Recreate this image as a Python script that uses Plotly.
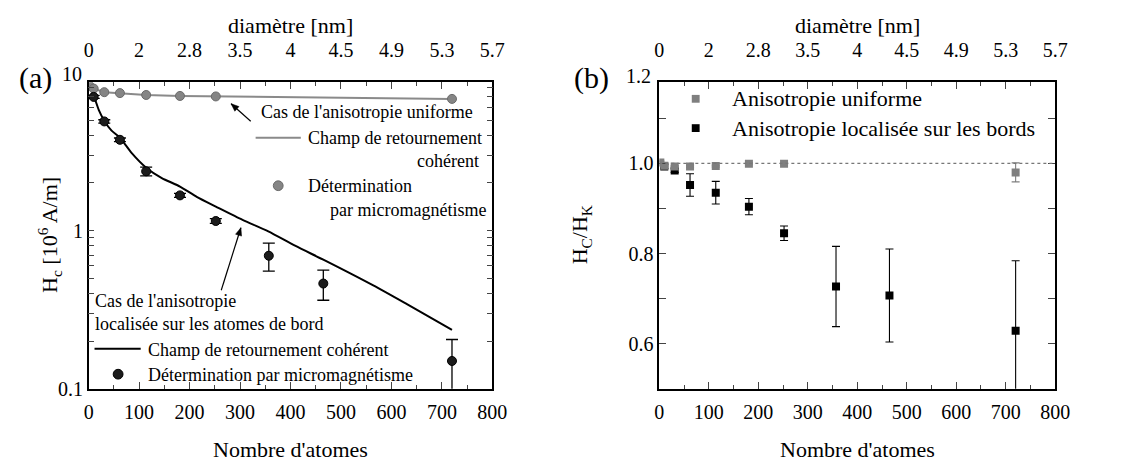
import math
import plotly.graph_objects as go

W, H = 1130, 468
FONT = "Liberation Serif, Times New Roman, DejaVu Serif, serif"

def px(x):
    return x / W

def py(y):
    return 1 - y / H

# ---------------- data ----------------
n_uniform = [2, 10, 31, 62, 114, 181, 252, 720]
hc_uniform = [8.2, 7.9, 7.5, 7.4, 7.2, 7.1, 7.05, 6.8]

n_edge = [10, 31, 62, 114, 181, 252, 357, 465, 720]
hc_edge = [7.0, 4.9, 3.75, 2.37, 1.67, 1.15, 0.694, 0.463, 0.150]
hc_edge_err = [0.15, 0.12, 0.1, 0.15, 0.05, 0.04, 0.14, 0.1, 0.055]

n_curve = [5, 10, 20, 31, 45, 61, 85, 114, 145, 181, 215, 252, 305, 356, 410, 465, 564, 629, 720]
hc_curve = [7.4, 7.1, 5.8, 4.95, 4.3, 3.9, 3.1, 2.5, 2.15, 1.9, 1.63, 1.42, 1.17, 0.99, 0.8, 0.655, 0.45, 0.345, 0.236]

ratio_uniform = [1.002, 0.995, 0.993, 0.993, 0.994, 0.999, 0.999, 0.980]
ratio_uniform_err = [0.003, 0.002, 0.002, 0.002, 0.002, 0.002, 0.002, 0.021]
ratio_edge = [0.993, 0.984, 0.952, 0.935, 0.904, 0.845, 0.727, 0.707, 0.629]
ratio_edge_err = [0.004, 0.004, 0.025, 0.025, 0.018, 0.016, 0.089, 0.103, 0.155]

atom_ticks = [0, 100, 200, 300, 400, 500, 600, 700, 800]
diam_labels = ["0", "2", "2.8", "3.5", "4", "4.5", "4.9", "5.3", "5.7"]

log_major = [0.1, 1]
log_major_text = ["0.1", "1"]
log_minor = [0.2, 0.3, 0.4, 0.5, 0.6, 0.7, 0.8, 0.9, 2, 3, 4, 5, 6, 7, 8]

GRAY = "#858585"
GRAY_LINE = "#8a8a8a"

fig = go.Figure()

# ---- panel (a) ----
fig.add_trace(go.Scatter(x=n_curve, y=hc_curve, mode="lines", line_shape="spline",
                         line=dict(color="black", width=2, smoothing=0.6), xaxis="x", yaxis="y",
                         showlegend=False))
fig.add_trace(go.Scatter(x=n_uniform, y=hc_uniform, mode="lines+markers",
                         line=dict(color=GRAY_LINE, width=2),
                         marker=dict(size=9, color=GRAY, line=dict(color="#6a6a6a", width=1)),
                         xaxis="x", yaxis="y", showlegend=False))
fig.add_trace(go.Scatter(x=n_edge, y=hc_edge, mode="markers",
                         marker=dict(size=9, color="#1c1c1c", line=dict(color="black", width=1)),
                         error_y=dict(type="data", array=hc_edge_err, color="black", thickness=1.3, width=6),
                         xaxis="x", yaxis="y", showlegend=False))
fig.add_trace(go.Scatter(x=[0, 800], y=[None, None], mode="markers", xaxis="x3", yaxis="y",
                         showlegend=False, hoverinfo="skip"))

# ---- panel (b) ----
fig.add_trace(go.Scatter(x=n_edge, y=ratio_edge, mode="markers",
                         marker=dict(symbol="square", size=8, color="black"),
                         error_y=dict(type="data", array=ratio_edge_err, color="black", thickness=1.1, width=4),
                         xaxis="x2", yaxis="y2", showlegend=False))
fig.add_trace(go.Scatter(x=n_uniform, y=ratio_uniform, mode="markers",
                         marker=dict(symbol="square", size=8, color="#7f7f7f"),
                         error_y=dict(type="data", array=ratio_uniform_err, color="#7f7f7f", thickness=1.1, width=4),
                         xaxis="x2", yaxis="y2", showlegend=False))
fig.add_trace(go.Scatter(x=[0, 800], y=[None, None], mode="markers", xaxis="x4", yaxis="y2",
                         showlegend=False, hoverinfo="skip"))

tickfont = dict(family=FONT, size=20, color="black")
ydom = [py(390), py(76)]
xdom1 = [px(77), px(488)]
xdom2 = [px(658), px(1061)]

common_x = dict(range=[0, 800], tickvals=atom_ticks, ticks="inside", ticklen=7, tickwidth=1.3,
                showline=True, linecolor="black", linewidth=1.5, showgrid=False, zeroline=False,
                tickfont=tickfont, mirror=False,
                minor=dict(ticks="inside", ticklen=4, tickwidth=1.2, dtick=50, tick0=0, showgrid=False))
top_x = dict(range=[0, 800], tickvals=atom_ticks, ticktext=diam_labels, side="top",
             ticks="inside", ticklen=7, tickwidth=1.3, showline=True, linecolor="black", linewidth=1.5,
             showgrid=False, zeroline=False, tickfont=tickfont, ticklabelstandoff=15,
             minor=dict(ticks="inside", ticklen=4, tickwidth=1.2, dtick=50, tick0=0, showgrid=False))

fig.update_layout(
    width=W, height=H,
    margin=dict(l=0, r=0, t=0, b=0),
    plot_bgcolor="white", paper_bgcolor="white",
    font=dict(family=FONT, color="black"),
    xaxis=dict(domain=xdom1, anchor="y", ticklabelstandoff=4, **common_x),
    xaxis3=dict(overlaying="x", anchor="y", **top_x),
    yaxis=dict(domain=ydom, anchor="x", type="log", range=[-1, math.log10(8.67)],
               tickvals=log_major, ticktext=log_major_text, ticks="inside", ticklen=6, tickwidth=1.2,
               showline=True, linecolor="black", linewidth=1.5, mirror="allticks",
               showgrid=False, zeroline=False, tickfont=tickfont,
               minor=dict(ticks="inside", ticklen=6, tickwidth=1.2, tickvals=log_minor, showgrid=False)),
    xaxis2=dict(domain=xdom2, anchor="y2", ticklabelstandoff=4, **common_x),
    xaxis4=dict(overlaying="x2", anchor="y2", **top_x),
    yaxis2=dict(domain=ydom, anchor="x2", range=[0.5, 1.18],
                tickvals=[0.6, 0.8, 1.0], ticktext=["0.6", "0.8", "1.0"],
                ticks="inside", ticklen=7, tickwidth=1.3,
                showline=True, linecolor="black", linewidth=1.5, mirror="allticks",
                showgrid=False, zeroline=False, tickfont=tickfont,
                minor=dict(ticks="inside", ticklen=7, tickwidth=1.2, tickvals=[0.7, 0.9, 1.1], showgrid=False)),
)

# dotted reference line at 1.0
fig.add_shape(type="line", xref="x2 domain", yref="y2", x0=0, x1=1, y0=1.0, y1=1.0,
              line=dict(color="#777777", width=1.2, dash="dot"))

ann = []
def text(x, y, s, size=18, xanchor="left", yanchor="middle", **kw):
    ann.append(dict(x=px(x), y=py(y), xref="paper", yref="paper", text=s, showarrow=False,
                    xanchor=xanchor, yanchor=yanchor,
                    font=dict(family=FONT, size=size, color="black"), **kw))

# panel labels and top-corner tick labels
text(4, 72, "(a)", size=30)
text(569, 72, "(b)", size=30)
text(72, 68, "10", size=20, xanchor="right")
text(652, 70, "1.2", size=20, xanchor="right")

# axis titles
text(282.5, 18, "diamètre [nm]", size=22, xanchor="center")
text(859.5, 18, "diamètre [nm]", size=22, xanchor="center")
text(282.5, 452, "Nombre d'atomes", size=22, xanchor="center")
text(859.5, 452, "Nombre d'atomes", size=22, xanchor="center")
text(37, 232, "H<sub>c</sub> [10<sup>6</sup> A/m]", size=22, xanchor="center", textangle=-90)
text(578, 232, "H<sub>C</sub>/H<sub>K</sub>", size=22, xanchor="center", textangle=-90)

# panel (a) annotations - uniform
text(250, 107, "Cas de l'anisotropie uniforme")
text(298, 133, "Champ de retournement")
text(476, 157, "cohérent", xanchor="right")
text(298, 182, "Détermination")
text(484, 207, "par micromagnétisme", xanchor="right")
# panel (a) annotations - edge
text(81, 300, "Cas de l'anisotropie")
text(81, 324, "localisée sur les atomes de bord")
text(135, 350, "Champ de retournement cohérent")
text(135, 376, "Détermination par micromagnétisme")
# panel (b) legend text
text(730, 93, "Anisotropie uniforme", size=22)
text(730, 123, "Anisotropie localisée sur les bords", size=22)
fig.update_layout(annotations=ann)

# arrows drawn as shapes (shaft + head)
def arrow(x_tail, y_tail, x_tip, y_tip, head=8, half=3.2):
    fig.add_shape(type="line", xref="paper", yref="paper",
                  x0=px(x_tail), y0=py(y_tail), x1=px(x_tip), y1=py(y_tip),
                  line=dict(color="black", width=1.2))
    dx, dy = x_tip - x_tail, y_tip - y_tail
    Ln = math.hypot(dx, dy)
    ux, uy = dx / Ln, dy / Ln
    bx, by = x_tip - ux * head, y_tip - uy * head
    p1 = (bx - uy * half, by + ux * half)
    p2 = (bx + uy * half, by - ux * half)
    path = "M {} {} L {} {} L {} {} Z".format(px(x_tip), py(y_tip), px(p1[0]), py(p1[1]), px(p2[0]), py(p2[1]))
    fig.add_shape(type="path", xref="paper", yref="paper", path=path,
                  fillcolor="black", line=dict(color="black", width=0.5))

arrow(242, 116, 222, 98)
arrow(212, 289, 232, 225)

# legend swatches
fig.add_shape(type="line", xref="paper", yref="paper", x0=px(247), x1=px(293), y0=py(133), y1=py(133),
              line=dict(color=GRAY_LINE, width=2))
fig.add_shape(type="circle", xref="paper", yref="paper", x0=px(265), x1=px(275), y0=py(187), y1=py(177),
              fillcolor=GRAY, line=dict(color="#6a6a6a", width=1))
fig.add_shape(type="line", xref="paper", yref="paper", x0=px(83), x1=px(130), y0=py(349), y1=py(349),
              line=dict(color="black", width=2))
fig.add_shape(type="circle", xref="paper", yref="paper", x0=px(102), x1=px(112), y0=py(380), y1=py(370),
              fillcolor="#1c1c1c", line=dict(color="black", width=1))
fig.add_shape(type="rect", xref="paper", yref="paper", x0=px(691), x1=px(699), y0=py(97), y1=py(89),
              fillcolor="#7f7f7f", line=dict(width=0))
fig.add_shape(type="rect", xref="paper", yref="paper", x0=px(691), x1=px(699), y0=py(127), y1=py(119),
              fillcolor="black", line=dict(width=0))

fig.write_html("out.html")
